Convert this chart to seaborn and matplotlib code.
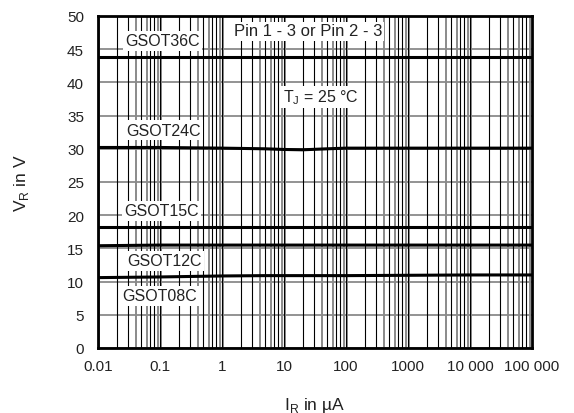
import numpy as np
import pandas as pd
import matplotlib
matplotlib.use("Agg")
import matplotlib.pyplot as plt
import seaborn as sns

# ---- data ----
current_uA = [0.01, 0.1, 1, 5, 10, 20, 50, 100, 1000, 10000, 100000]
v_36c = [43.8, 43.8, 43.8, 43.8, 43.8, 43.8, 43.8, 43.8, 43.8, 43.8, 43.8]
v_24c = [30.2, 30.2, 30.1, 30.0, 29.9, 29.85, 30.0, 30.1, 30.1, 30.1, 30.1]
v_15c = [18.2, 18.2, 18.2, 18.2, 18.2, 18.2, 18.2, 18.2, 18.2, 18.2, 18.2]
v_12c = [15.4, 15.5, 15.5, 15.5, 15.5, 15.5, 15.5, 15.5, 15.5, 15.5, 15.5]
v_08c = [10.6, 10.7, 10.85, 10.9, 10.9, 10.9, 10.9, 10.9, 10.95, 11.0, 11.0]
series_names = ["GSOT36C", "GSOT24C", "GSOT15C", "GSOT12C", "GSOT08C"]

x_ticks = [0.01, 0.1, 1, 10, 100, 1000, 10000, 100000]
x_tick_labels = ["0.01", "0.1", "1", "10", "100", "1000", "10 000", "100 000"]
y_ticks = [0, 5, 10, 15, 20, 25, 30, 35, 40, 45, 50]

df = pd.concat([
    pd.DataFrame({"I": current_uA, "V": v, "device": n})
    for n, v in zip(series_names, [v_36c, v_24c, v_15c, v_12c, v_08c])
])

sns.set_theme(style="white")
plt.rcParams["font.family"] = ["Liberation Sans", "DejaVu Sans"]

fig = plt.figure(figsize=(5.74, 4.14), dpi=100)
ax = fig.add_axes([98 / 574, 1 - 349 / 414, 434 / 574, 332 / 414])

ax.set_xscale("log")
ax.set_xlim(0.01, 100000)
ax.set_ylim(0, 50)

# grid
for dec in range(-2, 5):
    base = 10.0 ** dec
    for m in range(1, 10):
        xv = base * m
        if m in (1, 2, 3, 5, 7, 8):
            ax.axvline(xv, color="black", lw=0.8, zorder=1)
        if m in (1, 4, 6, 9):
            ax.axvline(xv * 1.02, color="#8a8a8a", lw=1.4, zorder=0.9)
for yv in y_ticks:
    ax.axhline(yv, color="#8a8a8a", lw=1.3, zorder=0.8)

sns.lineplot(data=df, x="I", y="V", hue="device", palette=["black"] * 5,
             linewidth=2.2, legend=False, ax=ax, zorder=3)

ax.set_xticks(x_ticks)
ax.set_xticklabels(x_tick_labels)
ax.minorticks_off()
ax.set_yticks(y_ticks)
ax.tick_params(axis="both", length=0, labelsize=11, colors="#222222")
ax.tick_params(axis="x", pad=8)
ax.tick_params(axis="y", pad=10)

for s in ax.spines.values():
    s.set_color("black")
    s.set_linewidth(2.0)
    s.set_zorder(5)

ax.set_xlabel("I$_\\mathregular{R}$ in µA", fontsize=12.5, labelpad=16, color="#222222")
ax.set_ylabel("V$_\\mathregular{R}$ in V", fontsize=12.5, labelpad=26, color="#222222")

box = dict(facecolor="white", edgecolor="none", pad=1.5)
label_pos = {
    "GSOT36C": (125, 42),
    "GSOT24C": (126, 131),
    "GSOT15C": (124, 212),
    "GSOT12C": (127, 262),
    "GSOT08C": (122, 297),
}
for name, (px, py) in label_pos.items():
    fig.text(px / 574, 1 - py / 414, name, fontsize=11.5, ha="left", va="center",
             color="#222222", bbox=box, zorder=6)
fig.text(234 / 574, 1 - 32 / 414, "Pin 1 - 3 or Pin 2 - 3", fontsize=12, ha="left",
         va="center", color="#222222", bbox=box, zorder=6)
fig.text(283 / 574, 1 - 98 / 414, "T$_\\mathregular{J}$ = 25 °C", fontsize=11.5, ha="left",
         va="center", color="#222222", bbox=box, zorder=6)

fig.savefig("out.png", dpi=100)
